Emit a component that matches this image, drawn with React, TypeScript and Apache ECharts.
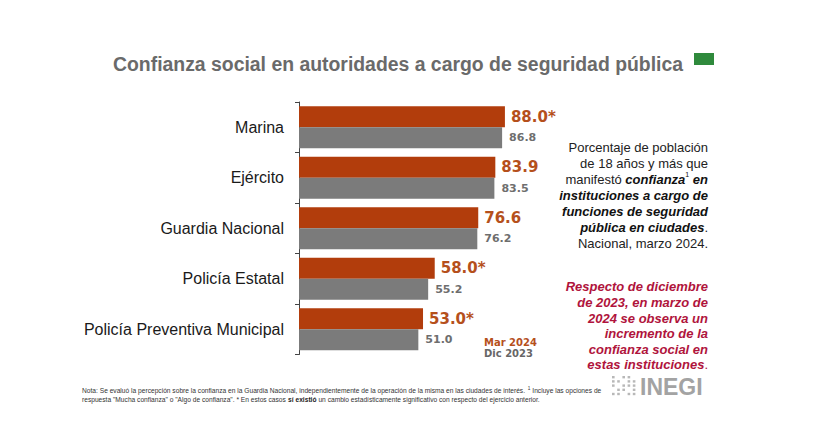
import React, { useEffect, useRef } from "react";
import * as echarts from "echarts";

const categories = ["Marina", "Ejército", "Guardia Nacional", "Policía Estatal", "Policía Preventiva Municipal"];
const mar2024 = [88.0, 83.9, 76.6, 58.0, 53.0];
const dic2023 = [86.8, 83.5, 76.2, 55.2, 51.0];
const significant = [true, false, false, true, true];
const seriesNames = ["Mar 2024", "Dic 2023"];

const ORANGE = "#b23d0c";
const GRAY = "#7b7b7b";
const SANS = "'Liberation Sans', Arial, sans-serif";
const VAL = "'DejaVu Sans', Verdana, sans-serif";

export default function App() {
  const ref = useRef<HTMLDivElement>(null);
  useEffect(() => {
    document.body.style.margin = "0";
    const chart = echarts.init(ref.current!, null, { renderer: "svg" });
    const dots: any[] = [];
    const dotPattern = [
      [0, 0], [2, 0], [3, 0], [0, 1], [1, 1], [3, 1], [4, 1], [0, 2], [2, 2], [3, 2], [4, 2], [1, 3], [2, 3], [4, 3], [0, 4], [1, 4], [3, 4], [4, 4],
    ];
    dotPattern.forEach(([c, r]) => {
      dots.push({ type: "rect", shape: { x: 612 + c * 5.2, y: 376 + r * 4.2, width: 2.6, height: 2.4 }, style: { fill: "#b8b8b8" } });
    });
    chart.setOption({
      animation: false,
      backgroundColor: "#ffffff",
      title: {
        text: "Confianza social en autoridades a cargo de seguridad pública",
        left: 113,
        top: 54,
        padding: 0,
        textStyle: { fontFamily: SANS, fontSize: 19.4, fontWeight: "bold", color: "#6a6a6a" },
      },
      legend: {
        orient: "vertical",
        left: 474,
        top: 332,
        itemWidth: 0,
        itemHeight: 0,
        itemGap: 1,
        selectedMode: false,
        data: [
          { name: seriesNames[0], icon: "none", textStyle: { color: "#b5501c" } },
          { name: seriesNames[1], icon: "none", textStyle: { color: "#666666" } },
        ],
        textStyle: { fontFamily: VAL, fontSize: 10, fontWeight: "bold" },
      },
      grid: { left: 299, top: 102, width: 234, height: 252.5, containLabel: false },
      xAxis: { type: "value", min: 0, max: 100, show: false },
      yAxis: {
        type: "category",
        data: categories,
        inverse: true,
        axisLine: { show: true, lineStyle: { color: "#444", width: 1 } },
        axisTick: { show: true, length: 4, lineStyle: { color: "#444" } },
        axisLabel: { fontFamily: SANS, fontSize: 16, color: "#1a1a1a", margin: 15 },
      },
      series: [
        {
          name: seriesNames[0],
          type: "bar",
          data: mar2024,
          barWidth: 21,
          barGap: "0%",
          itemStyle: { color: ORANGE },
          label: {
            show: true,
            position: "right",
            distance: 6,
            fontFamily: VAL,
            fontSize: 15,
            fontWeight: "bold",
            color: "#b5501c",
            formatter: (p: any) => p.value.toFixed(1) + (significant[p.dataIndex] ? "*" : ""),
          },
        },
        {
          name: seriesNames[1],
          type: "bar",
          data: dic2023,
          barWidth: 21,
          itemStyle: { color: GRAY },
          label: {
            show: true,
            position: "right",
            distance: 7,
            fontFamily: VAL,
            fontSize: 11,
            fontWeight: "bold",
            color: "#6e6e6e",
            formatter: (p: any) => p.value.toFixed(1),
          },
        },
      ],
      graphic: [
        { type: "rect", shape: { x: 694, y: 53, width: 20, height: 12 }, style: { fill: "#2f8a3c" } },
        {
          type: "text",
          x: 708,
          y: 139,
          style: {
            text:
              "Porcentaje de población\nde 18 años y más que\nmanifestó {bi|confianza}{sup|1}{bi| en}\n{bi|instituciones a cargo de}\n{bi|funciones de seguridad}\n{bi|pública en ciudades}.\nNacional, marzo 2024.",
            align: "right",
            verticalAlign: "top",
            fontFamily: SANS,
            fontSize: 13,
            lineHeight: 16,
            fill: "#222222",
            rich: {
              bi: { fontFamily: SANS, fontSize: 13, fontWeight: "bold", fontStyle: "italic", fill: "#111111", lineHeight: 16 },
              sup: { fontFamily: SANS, fontSize: 7, fill: "#111111", verticalAlign: "top", lineHeight: 16, padding: [0, 0, 7, 0] },
            },
          },
        },
        {
          type: "text",
          x: 708,
          y: 279,
          style: {
            text: "Respecto de diciembre\nde 2023, en marzo de\n2024 se observa un\nincremento de la\nconfianza social en\nestas instituciones{n|.}",
            align: "right",
            verticalAlign: "top",
            fontFamily: SANS,
            fontSize: 13,
            fontWeight: "bold",
            fontStyle: "italic",
            lineHeight: 15.6,
            fill: "#b0143c",
            rich: { n: { fontFamily: SANS, fontSize: 13, fill: "#b0143c", lineHeight: 15.6 } },
          },
        },
        {
          type: "text",
          x: 82,
          y: 386,
          scaleX: 0.95,
          style: {
            text:
              "Nota: Se evaluó la percepción sobre la confianza en la Guardia Nacional, independientemente de la operación de la misma en las ciudades de interés. {s|1} Incluye las opciones de\nrespuesta \"Mucha confianza\" o \"Algo de confianza\". * En estos casos {b|sí existió} un cambio estadísticamente significativo con respecto del ejercicio anterior.",
            align: "left",
            verticalAlign: "top",
            fontFamily: SANS,
            fontSize: 7,
            lineHeight: 9,
            fill: "#333333",
            rich: {
              b: { fontFamily: SANS, fontSize: 7, fontWeight: "bold", fill: "#222", lineHeight: 9 },
              s: { fontFamily: SANS, fontSize: 5, fill: "#333", lineHeight: 9, verticalAlign: "top" },
            },
          },
        },
        { type: "group", children: dots },
        {
          type: "text",
          x: 640,
          y: 387,
          style: {
            text: "INEGI",
            align: "left",
            verticalAlign: "middle",
            fontFamily: SANS,
            fontSize: 23,
            fontWeight: "bold",
            fill: "#a3a3a3",
          },
        },
      ],
    });
    return () => chart.dispose();
  }, []);
  return <div ref={ref} style={{ width: 825, height: 441 }} />;
}
